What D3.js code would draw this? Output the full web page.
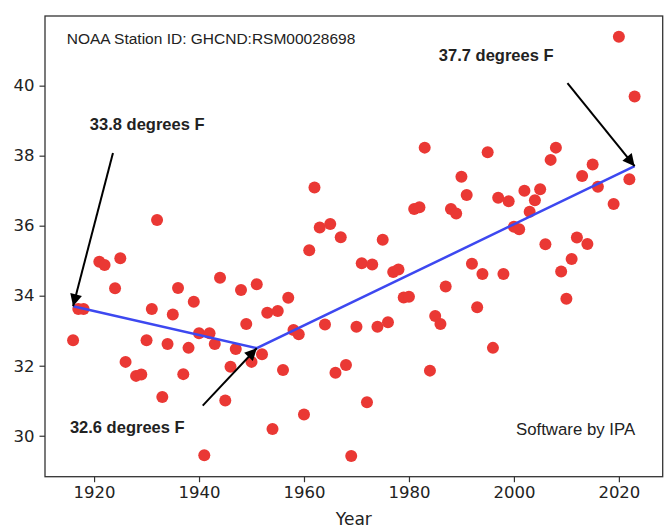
<!DOCTYPE html>
<html>
<head>
<meta charset="utf-8">
<script src="https://cdn.jsdelivr.net/npm/d3@7"></script>
<style>
  body { margin: 0; background: #fff; }
  svg text { fill: #222; }
  .tick text { font-family: "DejaVu Sans", sans-serif; font-size: 16.5px; }
  .note { font-family: "Liberation Sans", Arial, sans-serif; }
</style>
</head>
<body>
<div id="chart"></div>
<script>
// yearly mean temperatures
const years = [1916,1917,1918,1921,1922,1924,1925,1926,1928,1929,1930,1931,1932,1933,1934,1935,1936,1937,1938,1939,
  1940,1941,1942,1943,1944,1945,1946,1947,1948,1949,1950,1951,1952,1953,1954,1955,1956,1957,1958,1959,
  1960,1961,1962,1963,1964,1965,1966,1967,1968,1969,1970,1971,1972,1973,1974,1975,1976,1977,1978,1979,
  1980,1981,1982,1983,1984,1985,1986,1987,1988,1989,1990,1991,1992,1993,1994,1995,1996,1997,1998,1999,
  2000,2001,2002,2003,2004,2005,2006,2007,2008,2009,2010,2011,2012,2013,2014,2015,2016,2019,2020,2022,2023]
const temps = [32.73,33.62,33.62,34.97,34.88,34.21,35.07,32.11,31.71,31.75,32.73,33.62,36.16,31.11,32.62,33.46,34.22,31.76,32.51,33.83,
  32.93,29.44,32.93,32.62,34.51,31.01,31.97,32.48,34.16,33.19,32.11,34.33,32.33,33.51,30.19,33.56,31.88,33.94,33.02,32.90,
  30.61,35.30,37.09,35.95,33.18,36.05,31.80,35.67,32.02,29.42,33.11,34.93,30.96,34.89,33.11,35.60,33.24,34.68,34.75,33.95,
  33.97,36.48,36.53,38.23,31.86,33.42,33.19,34.26,36.48,36.35,37.40,36.88,34.91,33.67,34.62,38.10,32.51,36.80,34.62,36.70,
  35.97,35.90,37.00,36.40,36.73,37.04,35.47,37.88,38.23,34.69,33.91,35.05,35.66,37.42,35.48,37.75,37.11,36.62,41.40,37.33,39.69]

// piecewise trend
const trendYears = [1916, 1951, 2023]
const trendTemps = [33.7, 32.5, 37.7]

// annotations: label, text anchor (year, temp), arrow tail (year, temp)
const noteLabels = ["33.8 degrees F", "32.6 degrees F", "37.7 degrees F"]
const noteTextPos = [[1919.2, 38.73], [1915.4, 30.08], [1985.7, 40.71]]
const noteTailPos = [[1923.6, 38.08], [1940.7, 30.86], [2010.2, 40.07]]

const xTicks = [1920, 1940, 1960, 1980, 2000, 2020]
const yTicks = [30, 32, 34, 36, 38, 40]

const width = 666, height = 529
const plotL = 45, plotR = 662.7, plotT = 16, plotB = 476.7

const svg = d3.select("#chart").append("svg")
    .attr("width", width)
    .attr("height", height)

const x = d3.scaleLinear().domain([1910.65, 2028.35]).range([plotL, plotR])
const y = d3.scaleLinear().domain([28.83, 41.99]).range([plotB, plotT])

svg.append("defs").append("marker")
    .attr("id", "head")
    .attr("viewBox", "0 0 10 10")
    .attr("refX", 10).attr("refY", 5)
    .attr("markerWidth", 7).attr("markerHeight", 6)
    .attr("markerUnits", "strokeWidth")
    .attr("orient", "auto")
  .append("path")
    .attr("d", "M0,0 L10,5 L0,10 z")
    .attr("fill", "#000")

// axes
svg.append("g")
    .attr("transform", `translate(0,${plotB})`)
    .call(d3.axisBottom(x).tickValues(xTicks).tickFormat(d3.format("d")).tickSize(5.5).tickSizeOuter(0).tickPadding(4))
    .call(g => g.select(".domain").remove())
    .call(g => g.selectAll(".tick line").attr("stroke", "#333").attr("stroke-width", 1.2))

svg.append("g")
    .attr("transform", `translate(${plotL},0)`)
    .call(d3.axisLeft(y).tickValues(yTicks).tickSize(5.5).tickSizeOuter(0).tickPadding(5))
    .call(g => g.select(".domain").remove())
    .call(g => g.selectAll(".tick line").attr("stroke", "#333").attr("stroke-width", 1.2))

svg.append("text")
    .attr("x", (plotL + plotR) / 2)
    .attr("y", 525)
    .attr("text-anchor", "middle")
    .attr("font-family", "DejaVu Sans, sans-serif")
    .attr("font-size", 17)
    .text("Year")

// dots
svg.append("g").selectAll("circle")
    .data(years.map((d, i) => ({year: d, temp: temps[i]})))
    .enter().append("circle")
    .attr("cx", d => x(d.year))
    .attr("cy", d => y(d.temp))
    .attr("r", 6)
    .attr("fill", "rgb(234,56,52)")

// trend
const line = d3.line().x(d => x(d[0])).y(d => y(d[1]))
svg.append("path")
    .datum(trendYears.map((d, i) => [d, trendTemps[i]]))
    .attr("d", line)
    .attr("fill", "none")
    .attr("stroke", "#3d48f0")
    .attr("stroke-width", 2.5)

// arrows + labels
noteLabels.forEach((lab, i) => {
    svg.append("line")
        .attr("x1", x(noteTailPos[i][0]))
        .attr("y1", y(noteTailPos[i][1]))
        .attr("x2", x(trendYears[i]))
        .attr("y2", y(trendTemps[i]))
        .attr("stroke", "#000")
        .attr("stroke-width", 2)
        .attr("marker-end", "url(#head)")
    svg.append("text")
        .attr("class", "note")
        .attr("x", x(noteTextPos[i][0]))
        .attr("y", y(noteTextPos[i][1]))
        .attr("font-size", 16.5)
        .attr("font-weight", "bold")
        .text(lab)
})

svg.append("text")
    .attr("class", "note")
    .attr("x", 66.7).attr("y", 44)
    .attr("font-size", 15.5)
    .text("NOAA Station ID: GHCND:RSM00028698")

svg.append("text")
    .attr("class", "note")
    .attr("x", 516).attr("y", 435)
    .attr("font-size", 16.8)
    .text("Software by IPA")

// frame
svg.append("rect")
    .attr("x", plotL).attr("y", plotT)
    .attr("width", plotR - plotL).attr("height", plotB - plotT)
    .attr("fill", "none")
    .attr("stroke", "#333")
    .attr("stroke-width", 1.3)
</script>
</body>
</html>
